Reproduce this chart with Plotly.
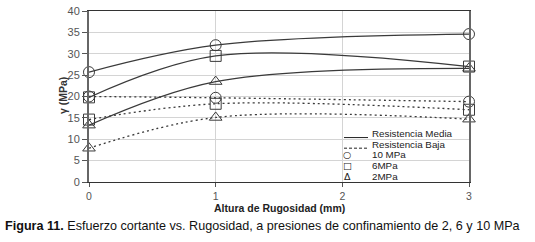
import plotly.graph_objects as go

# Data
x_pts = [0, 1, 3]
media_10 = [25.7, 32.0, 34.6]
media_6 = [19.8, 29.5, 27.0]
media_2 = [13.3, 23.5, 26.6]
baja_10 = [20.0, 19.7, 18.8]
baja_6 = [14.6, 18.3, 16.9]
baja_2 = [7.9, 15.1, 14.7]

x_ticks = [0, 1, 2, 3]
y_ticks = [0, 5, 10, 15, 20, 25, 30, 35, 40]

legend_labels = ["Resistencia Media", "Resistencia Baja", "10 MPa", "6MPa", "2MPa"]

LINE = "#3a3a3a"
series = [
    (media_10, "solid", "circle-open"),
    (media_6, "solid", "square-open"),
    (media_2, "solid", "triangle-up-open"),
    (baja_10, "dot", "circle-open"),
    (baja_6, "dot", "square-open"),
    (baja_2, "dot", "triangle-up-open"),
]

fig = go.Figure()
for ys, dash, sym in series:
    fig.add_trace(go.Scatter(
        x=x_pts, y=ys, mode="lines+markers",
        line=dict(color=LINE, width=1.2 if dash == "solid" else 1.3,
                  dash=dash if dash == "solid" else "2px,3px", shape="spline", smoothing=1.0),
        marker=dict(symbol=sym, size=11, color=LINE, line=dict(width=1, color=LINE)),
        cliponaxis=False, showlegend=False, hoverinfo="skip",
    ))

# plot area geometry in pixels
L, R, T, B = 89, 469, 5, 182
def px(xp):
    return (xp - L) / (R - L)
def py(yp):
    return (B - yp) / (B - T)

annotations = []
shapes = []
rows_y = [132, 143, 154, 165, 176]
for lab, yy in zip(legend_labels, rows_y):
    annotations.append(dict(x=px(371), y=py(yy), xref="paper", yref="paper", text=lab,
                            showarrow=False, xanchor="left", yanchor="middle", borderpad=0,
                            font=dict(size=9.8, color="#222", family="Liberation Sans, Arial")))
# line samples
shapes.append(dict(type="line", xref="paper", yref="paper", x0=px(344), x1=px(368),
                   y0=py(136), y1=py(136), line=dict(color="#222", width=1)))
shapes.append(dict(type="line", xref="paper", yref="paper", x0=px(344), x1=px(368),
                   y0=py(147), y1=py(147), line=dict(color="#222", width=1, dash="3px,2px")))
for sym, yy in zip(["○", "□", "Δ"], rows_y[2:]):
    annotations.append(dict(x=px(347), y=py(yy), xref="paper", yref="paper", text=sym,
                            showarrow=False, xanchor="center", yanchor="middle", borderpad=0,
                            font=dict(size=9.5, color="#222", family="DejaVu Sans")))

# axis titles and caption
annotations.append(dict(x=0.5, y=py(209), xref="paper", yref="paper",
                        text="<b>Altura de Rugosidad (mm)</b>", showarrow=False,
                        xanchor="center", yanchor="middle",
                        font=dict(size=10.5, color="#222", family="Liberation Sans, Arial")))
annotations.append(dict(x=px(63), y=py(93), xref="paper", yref="paper",
                        text="<b>γ (MPa)</b>", showarrow=False, textangle=-90,
                        xanchor="center", yanchor="middle",
                        font=dict(size=10.5, color="#333", family="Liberation Sans, Arial")))
annotations.append(dict(x=px(3), y=py(228), xref="paper", yref="paper",
                        text="<b>Figura 11.</b> Esfuerzo cortante vs. Rugosidad, a presiones de confinamiento de 2, 6 y 10 MPa",
                        showarrow=False, xanchor="left", yanchor="middle",
                        font=dict(size=12.6, color="#111", family="Liberation Sans, Arial")))

fig.update_layout(
    width=535, height=242,
    margin=dict(l=L, r=535 - R, t=T, b=242 - B),
    paper_bgcolor="white", plot_bgcolor="white",
    annotations=annotations, shapes=shapes,
    font=dict(family="Liberation Sans, Arial", color="#444"),
)
fig.update_xaxes(range=[0, 3], tickvals=x_ticks, ticktext=[str(v) for v in x_ticks],
                 showgrid=True, gridcolor="#d4d4d4", gridwidth=1,
                 showline=True, linecolor="#333", linewidth=1, mirror=True,
                 ticks="outside", ticklen=4, tickcolor="#555",
                 tickfont=dict(size=10.5, color="#555"), zeroline=False)
fig.update_yaxes(range=[0, 40], tickvals=y_ticks, ticktext=[str(v) for v in y_ticks],
                 showgrid=True, gridcolor="#d4d4d4", gridwidth=1,
                 showline=True, linecolor="#666", linewidth=2, mirror=True,
                 ticks="outside", ticklen=5, tickcolor="#555", ticklabeloverflow="allow",
                 tickfont=dict(size=11, color="#555"), zeroline=False)

fig.write_html("out.html", config={"displayModeBar": False},
               post_script="document.body.style.margin='0';document.body.style.overflow='hidden';")
